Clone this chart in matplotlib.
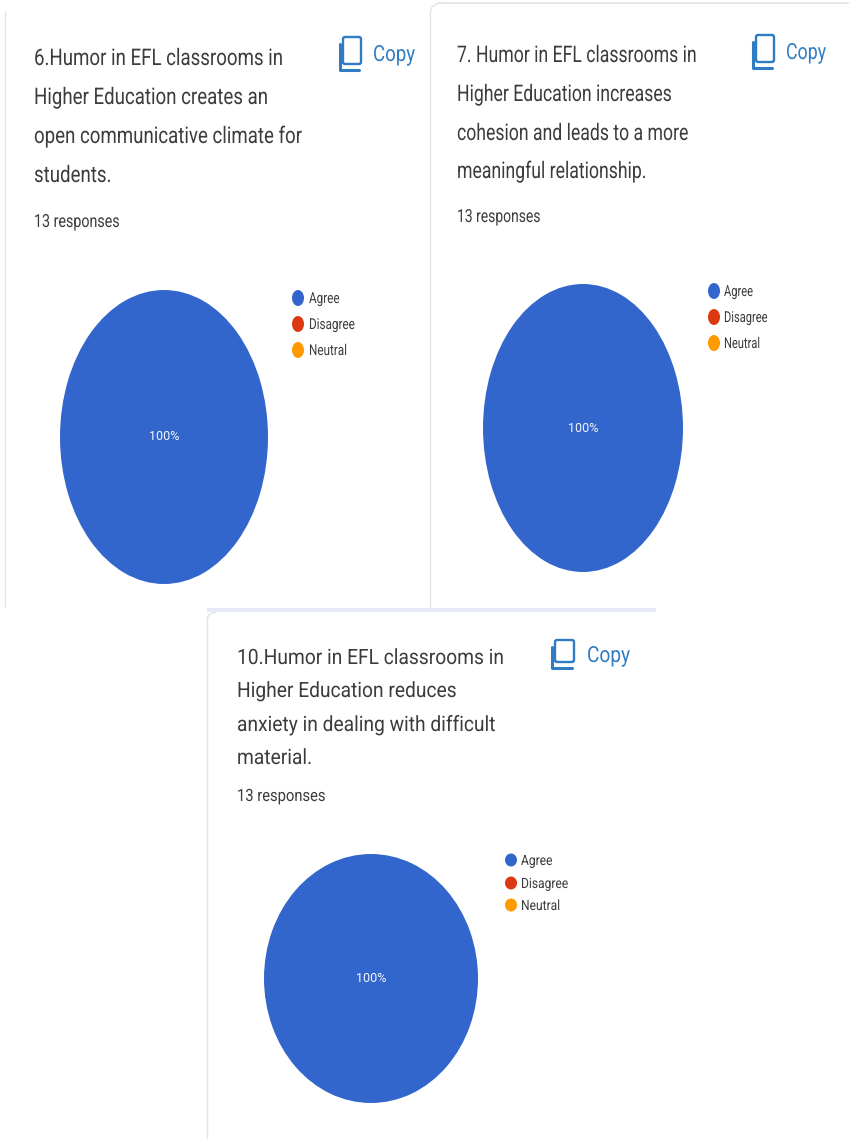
import matplotlib
matplotlib.use("Agg")
import matplotlib.pyplot as plt
from matplotlib.patches import Ellipse, FancyBboxPatch, Rectangle
from matplotlib.patheffects import AbstractPathEffect
from matplotlib.transforms import Affine2D

W, H = 849, 1139

# Survey data
categories = ["Agree", "Disagree", "Neutral"]
colors = ["#3366cc", "#dc3912", "#ff9900"]
values_q6 = [100, 0, 0]
values_q7 = [100, 0, 0]
values_q10 = [100, 0, 0]
responses = "13 responses"

title_q6 = ["6.Humor in EFL classrooms in", "Higher Education creates an",
            "open communicative climate for", "students."]
title_q7 = ["7. Humor in EFL classrooms in", "Higher Education increases",
            "cohesion and leads to a more", "meaningful relationship."]
title_q10 = ["10.Humor in EFL classrooms in", "Higher Education reduces",
             "anxiety in dealing with difficult", "material."]

FONT = ["Roboto", "DejaVu Sans"]
TEXT = "#3c3c3c"
BLUE = "#2f7cc4"
BORDER = "#e3e4ea"


class Squeeze(AbstractPathEffect):
    # condensed look: scales glyphs horizontally from the start of the text
    def __init__(self, sx):
        super().__init__()
        self.sx = sx

    def draw_path(self, renderer, gc, tpath, affine, rgbFace=None):
        renderer.draw_path(gc, tpath, Affine2D().scale(self.sx, 1) + affine, rgbFace)


fig = plt.figure(figsize=(W / 100, H / 100), dpi=100, facecolor="white")
page = fig.add_axes([0, 0, 1, 1])
page.set_xlim(0, W)
page.set_ylim(H, 0)
page.axis("off")


def put_text(x, y, s, size, sx, color=TEXT):
    page.text(x, y, s, color=color, fontsize=size, family=FONT, va="baseline",
              path_effects=[Squeeze(sx)])


def copy_button(x, y, w, h, text_x, base, sx):
    # back page is the L, front page the rounded box
    page.add_patch(FancyBboxPatch((x + 4, y + 1), w - 5, h - 8, boxstyle="round,pad=0,rounding_size=2",
                                  fc="none", ec=BLUE, lw=1.7))
    page.plot([x + 1, x + 1, x + w - 3], [y + 8, y + h - 1, y + h - 1], color=BLUE, lw=2.2,
              solid_capstyle="round", solid_joinstyle="round")
    put_text(text_x, base, "Copy", 16, sx, BLUE)


def pie_chart(values, box):
    x0, x1, y0, y1 = box
    ax = fig.add_axes([x0 / W, 1 - y1 / H, (x1 - x0) / W, (y1 - y0) / H])
    ax.pie(values, colors=colors, startangle=90, counterclock=False, radius=1, pctdistance=0,
           autopct=lambda p: "%d%%" % round(p) if p > 0 else "",
           textprops={"color": "#f4f6fc", "fontsize": 9, "family": FONT})
    ax.set_aspect("auto")
    ax.set_xlim(-1, 1)
    ax.set_ylim(-1, 1)


def legend(x, ys, text_x, mw, mh, size, sx):
    for name, color, y in zip(categories, colors, ys):
        page.add_patch(Ellipse((x, y), mw, mh, fc=color, ec="none"))
        put_text(text_x, y + 5, name, size, sx)


def title_block(lines, x, bases, size, sx, resp_base, resp_size, resp_sx):
    for line, base in zip(lines, bases):
        put_text(x, base, line, size, sx)
    put_text(x, resp_base, responses, resp_size, resp_sx)


# card borders
page.plot([5.5, 5.5], [12, 607], color=BORDER, lw=1)
page.plot([430.5, 430.5], [12, 607], color=BORDER, lw=1)
page.plot([440, 849], [2.5, 2.5], color=BORDER, lw=1.2)
page.plot([430.5, 432, 436, 440], [12, 7, 4, 2.5], color=BORDER, lw=1)
page.add_patch(Rectangle((207, 608), 449, 4, fc="#e8e9f7", ec="none"))
page.plot([207.5, 207.5], [618, H], color=BORDER, lw=1)
page.plot([207.5, 209, 212, 216], [618, 615, 613, 612], color=BORDER, lw=1)

# question 6
title_block(title_q6, 34, [65, 104, 143, 182], 16.5, 0.815, 227, 13, 0.79)
copy_button(339, 36, 23, 35, 373, 61, 0.84)
pie_chart(values_q6, (60, 268, 290, 584))
legend(298, [298, 324, 350], 309, 12, 16, 10.8, 0.78)

# question 7
title_block(title_q7, 457, [62, 101, 140, 178], 16.5, 0.77, 222, 13, 0.77)
copy_button(752, 34, 23, 35, 786, 59, 0.8)
pie_chart(values_q7, (483, 683, 284, 572))
legend(714, [291, 317, 343], 724, 12, 16, 10.8, 0.74)

# question 10
title_block(title_q10, 237, [664, 697, 731, 764], 15.2, 0.91, 801, 12.2, 0.87)
copy_button(551, 639, 24, 30, 587, 662, 0.86)
pie_chart(values_q10, (264, 478, 854, 1103))
legend(511, [860, 883, 905], 521, 12, 13, 10.2, 0.85)

fig.savefig("out.png", dpi=100, facecolor="white")
